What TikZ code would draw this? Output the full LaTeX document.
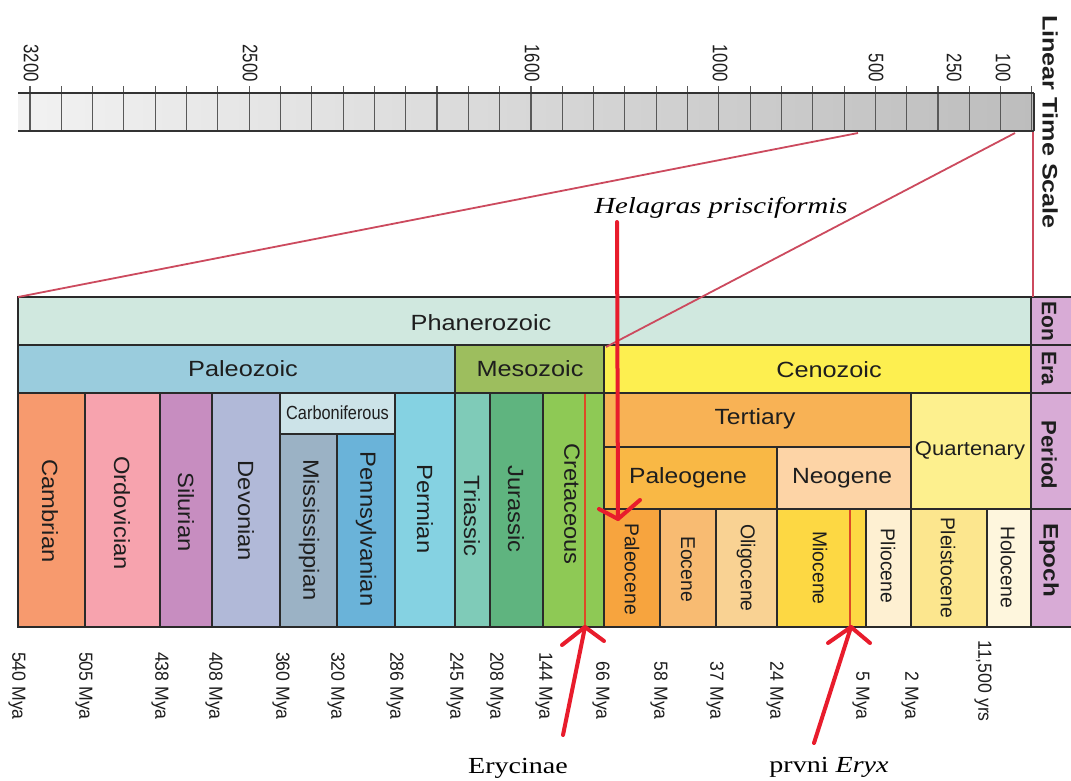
\documentclass[tikz,border=0pt]{standalone}
\usepackage{fontspec}
\setmainfont{Liberation Sans}
\newfontfamily\serifface{Liberation Serif}
\usepackage{graphicx}
\newcommand\xstr[2]{\scalebox{#1}[1]{#2}}
\definecolor{sbL}{HTML}{F2F2F2}
\definecolor{sbR}{HTML}{BDBDBD}
\definecolor{cphan}{HTML}{D0E8DF}
\definecolor{cpaleoz}{HTML}{9ACCDD}
\definecolor{cmesoz}{HTML}{9DBE5E}
\definecolor{ccenoz}{HTML}{FDEF50}
\definecolor{ccambr}{HTML}{F79A6E}
\definecolor{cordov}{HTML}{F7A3AE}
\definecolor{csilur}{HTML}{C78DC0}
\definecolor{cdevon}{HTML}{B1B9D8}
\definecolor{ccarbon}{HTML}{CCE3E8}
\definecolor{cmissi}{HTML}{9BB2C5}
\definecolor{cpenns}{HTML}{6AB3D9}
\definecolor{cperm}{HTML}{85D2E2}
\definecolor{ctrias}{HTML}{7FCBB8}
\definecolor{cjuras}{HTML}{5FB47F}
\definecolor{ccreta}{HTML}{8EC955}
\definecolor{cterti}{HTML}{F8B255}
\definecolor{cpaleog}{HTML}{F9B845}
\definecolor{cneog}{HTML}{FDD4A6}
\definecolor{cquart}{HTML}{FDF08E}
\definecolor{cpaleoc}{HTML}{F7A43E}
\definecolor{ceoc}{HTML}{F8BB72}
\definecolor{colig}{HTML}{F9D293}
\definecolor{cmioc}{HTML}{FDD843}
\definecolor{cplioc}{HTML}{FEF0D2}
\definecolor{cpleis}{HTML}{FCE68E}
\definecolor{cholo}{HTML}{FEF6DD}
\definecolor{clabc}{HTML}{D8ABD6}
\definecolor{cborder}{HTML}{2A2A2A}
\definecolor{zoomred}{HTML}{CC4A5E}
\definecolor{colred}{HTML}{DD4A26}
\definecolor{arrred}{HTML}{E81C2C}
\definecolor{txt}{HTML}{1E1E1E}
\begin{document}
\begin{tikzpicture}[x=1pt,y=-1pt,
  cell/.style={draw=cborder,line width=1.6pt},
  tickline/.style={draw=black!65,line width=1.1pt},
  barline/.style={draw=black!80,line width=1.5pt},
  zoomline/.style={draw=zoomred,line width=1.8pt},
  colline/.style={draw=colred,line width=1.4pt},
  redarrow/.style={draw=arrred,line width=4pt,line cap=round,line join=round},
  hlab/.style={inner sep=0pt,text=txt,font=\fontsize{22}{26}\selectfont},
  vlab/.style={inner sep=0pt,text=txt,rotate=-90,font=\fontsize{22}{26}\selectfont},
  elab/.style={inner sep=0pt,text=txt,rotate=-90,font=\fontsize{20}{22}\selectfont},
  slab/.style={inner sep=0pt,text=txt,rotate=-90,font=\fontsize{21}{24}\selectfont\bfseries},
  tlab/.style={inner sep=0pt,text=txt,rotate=-90,anchor=east,font=\fontsize{21}{24}\selectfont},
  dlab/.style={inner sep=0pt,text=txt,rotate=-90,anchor=east,font=\fontsize{19}{22}\selectfont},
  serlab/.style={inner sep=0pt,text=black,font=\serifface\fontsize{23}{26}\selectfont}]
\useasboundingbox (0,0) rectangle (1071,780);
\fill[white] (0,0) rectangle (1071,780);

% ---------- linear time scale ----------
\shade[left color=sbL,right color=sbR] (18,93) rectangle (1034,131);
\foreach \i in {0,...,32} \draw[tickline] ({30+\i*31.31},86) -- ({30+\i*31.31},131);
\draw[barline] (18,93) -- (1034,93);
\draw[barline] (18,131) -- (1034,131);
\draw[barline] (1034,93) -- (1034,131);
\node[tlab] (t3200) at (31,82) {\xstr{0.8}{3200}};
\node[tlab] (t2500) at (250,82) {\xstr{0.8}{2500}};
\node[tlab] (t1600) at (532,82) {\xstr{0.8}{1600}};
\node[tlab] (t1000) at (720,82) {\xstr{0.8}{1000}};
\node[tlab] (t500) at (876,82) {\xstr{0.8}{500}};
\node[tlab] (t250) at (954,82) {\xstr{0.8}{250}};
\node[tlab] (t100) at (1003,82) {\xstr{0.8}{100}};
\node[slab] (lts) at (1050,122) {\xstr{1.2}{Linear Time Scale}};

% ---------- chart ----------
\filldraw[cell,fill=cphan] (18,297) rectangle (1031,345);
\filldraw[cell,fill=cpaleoz] (18,345) rectangle (455,393);
\filldraw[cell,fill=cmesoz] (455,345) rectangle (604,393);
\filldraw[cell,fill=ccenoz] (604,345) rectangle (1031,393);
\filldraw[cell,fill=ccambr] (18,393) rectangle (85,627);
\filldraw[cell,fill=cordov] (85,393) rectangle (160,627);
\filldraw[cell,fill=csilur] (160,393) rectangle (212,627);
\filldraw[cell,fill=cdevon] (212,393) rectangle (280,627);
\filldraw[cell,fill=ccarbon] (280,393) rectangle (395,434);
\filldraw[cell,fill=cmissi] (280,434) rectangle (337,627);
\filldraw[cell,fill=cpenns] (337,434) rectangle (395,627);
\filldraw[cell,fill=cperm] (395,393) rectangle (455,627);
\filldraw[cell,fill=ctrias] (455,393) rectangle (490,627);
\filldraw[cell,fill=cjuras] (490,393) rectangle (543,627);
\filldraw[cell,fill=ccreta] (543,393) rectangle (604,627);
\filldraw[cell,fill=cterti] (604,393) rectangle (911,447);
\filldraw[cell,fill=cpaleog] (604,447) rectangle (777,509);
\filldraw[cell,fill=cneog] (777,447) rectangle (911,509);
\filldraw[cell,fill=cquart] (911,393) rectangle (1031,509);
\filldraw[cell,fill=cpaleoc] (604,509) rectangle (660,627);
\filldraw[cell,fill=ceoc] (660,509) rectangle (716,627);
\filldraw[cell,fill=colig] (716,509) rectangle (777,627);
\filldraw[cell,fill=cmioc] (777,509) rectangle (866,627);
\filldraw[cell,fill=cplioc] (866,509) rectangle (911,627);
\filldraw[cell,fill=cpleis] (911,509) rectangle (987,627);
\filldraw[cell,fill=cholo] (987,509) rectangle (1031,627);
\filldraw[cell,fill=clabc] (1031,297) rectangle (1080,345);
\filldraw[cell,fill=clabc] (1031,345) rectangle (1080,393);
\filldraw[cell,fill=clabc] (1031,393) rectangle (1080,509);
\filldraw[cell,fill=clabc] (1031,509) rectangle (1080,627);

% column marker lines
\draw[colline] (585,394) -- (585,626);
\draw[colline] (850,510) -- (850,626);

% labels
\node[hlab] (phan) at (481,323) {\xstr{1.15}{Phanerozoic}};
\node[hlab] (paleoz) at (243,369) {\xstr{1.15}{Paleozoic}};
\node[hlab] (mesoz) at (530,369) {\xstr{1.15}{Mesozoic}};
\node[hlab] (cenoz) at (829,370) {\xstr{1.15}{Cenozoic}};
\node[hlab,font=\fontsize{19}{22}\selectfont] (carb) at (337.5,413) {\xstr{0.86}{Carboniferous}};
\node[hlab] (terti) at (755,419) {\xstr{1.12}{Tertiary}};
\node[hlab] (paleog) at (688,478) {\xstr{1.12}{Paleogene}};
\node[hlab] (neog) at (842,478) {\xstr{1.12}{Neogene}};
\node[hlab,font=\fontsize{20}{24}\selectfont] (quart) at (970,451) {\xstr{1.1}{Quartenary}};
\node[vlab] (cambr) at (50,511) {\xstr{1.08}{Cambrian}};
\node[vlab] (ordov) at (122,513) {\xstr{1.08}{Ordovician}};
\node[vlab] (silur) at (186,512) {\xstr{1.08}{Silurian}};
\node[vlab] (devon) at (246,511) {\xstr{1.08}{Devonian}};
\node[vlab] (missi) at (309,530) {\xstr{1.08}{Mississippian}};
\node[vlab] (penns) at (366,529) {\xstr{1.08}{Pennsylvanian}};
\node[vlab] (perm) at (425,509) {\xstr{1.08}{Permian}};
\node[vlab] (trias) at (472,516) {\xstr{1.08}{Triassic}};
\node[vlab] (juras) at (516,509) {\xstr{1.08}{Jurassic}};
\node[vlab] (creta) at (572,504) {\xstr{1.08}{Cretaceous}};
\node[elab] (paleoc) at (632,569) {\xstr{0.97}{Paleocene}};
\node[elab] (eoc) at (688,569) {\xstr{0.97}{Eocene}};
\node[elab] (olig) at (746,568) {\xstr{0.97}{Oligocene}};
\node[elab] (mioc) at (820,568) {\xstr{0.97}{Miocene}};
\node[elab] (plioc) at (888,566) {\xstr{0.97}{Pliocene}};
\node[elab] (pleis) at (948,568) {\xstr{0.97}{Pleistocene}};
\node[elab] (holo) at (1008,567) {\xstr{0.97}{Holocene}};
\node[slab] (eon) at (1049,321) {Eon};
\node[slab] (era) at (1049,368) {Era};
\node[slab] (period) at (1049,455) {\xstr{1.05}{Period}};
\node[slab] (epoch) at (1049,560) {\xstr{1.15}{Epoch}};

% date labels
\node[dlab] (d540) at (17,720) {\xstr{0.93}{540 Mya}};
\node[dlab] (d505) at (84,720) {\xstr{0.93}{505 Mya}};
\node[dlab] (d438) at (160,720) {\xstr{0.93}{438 Mya}};
\node[dlab] (d408) at (214,720) {\xstr{0.93}{408 Mya}};
\node[dlab] (d360) at (281,720) {\xstr{0.93}{360 Mya}};
\node[dlab] (d320) at (336,720) {\xstr{0.93}{320 Mya}};
\node[dlab] (d286) at (395,720) {\xstr{0.93}{286 Mya}};
\node[dlab] (d245) at (455,720) {\xstr{0.93}{245 Mya}};
\node[dlab] (d208) at (495,720) {\xstr{0.93}{208 Mya}};
\node[dlab] (d144) at (544,720) {\xstr{0.93}{144 Mya}};
\node[dlab] (d66) at (601,720) {\xstr{0.93}{66 Mya}};
\node[dlab] (d58) at (659,720) {\xstr{0.93}{58 Mya}};
\node[dlab] (d37) at (715,720) {\xstr{0.93}{37 Mya}};
\node[dlab] (d24) at (775,720) {\xstr{0.93}{24 Mya}};
\node[dlab] (d5) at (861,720) {\xstr{0.93}{5 Mya}};
\node[dlab] (d2) at (910,720) {\xstr{0.93}{2 Mya}};
\node[dlab] (d11) at (983,722) {\xstr{0.93}{11,500 yrs}};

% zoom lines
\coordinate (zA) at (858,133);
\coordinate (zB) at (1015,133);
\coordinate (zC) at (1033,132);
\coordinate (cA) at (18,297);
\coordinate (cB) at (606,347);
\coordinate (cC) at (1033,297);
\draw[zoomline] (zA) -- (cA);
\draw[zoomline] (zB) -- (cB);
\draw[zoomline] (zC) -- (cC);

% annotation labels
\node[serlab] (hel) at (721,208) {\xstr{1.25}{\itshape Helagras prisciformis}};
\node[serlab] (eryc) at (518,768) {\xstr{1.22}{Erycinae}};
\node[serlab] (eryx) at (829,767) {\xstr{1.22}{prvni \textit{Eryx}}};

% red arrows
\coordinate (helS) at (617,222);
\coordinate (helT) at (618,519);
\coordinate (helL) at (599,509);
\coordinate (helR) at (640,500);
\draw[redarrow] (helS) -- (helT);
\draw[redarrow] (helL) -- (helT) -- (helR);
\coordinate (ercS) at (563,735);
\coordinate (ercT) at (585,627);
\coordinate (ercL) at (562,645);
\coordinate (ercR) at (604,641);
\draw[redarrow] (ercS) -- (ercT);
\draw[redarrow] (ercL) -- (ercT) -- (ercR);
\coordinate (eryS) at (814,743);
\coordinate (eryT) at (851,627);
\coordinate (eryL) at (828,643);
\coordinate (eryR) at (870,643);
\draw[redarrow] (eryS) -- (eryT);
\draw[redarrow] (eryL) -- (eryT) -- (eryR);
\end{tikzpicture}
\end{document}
